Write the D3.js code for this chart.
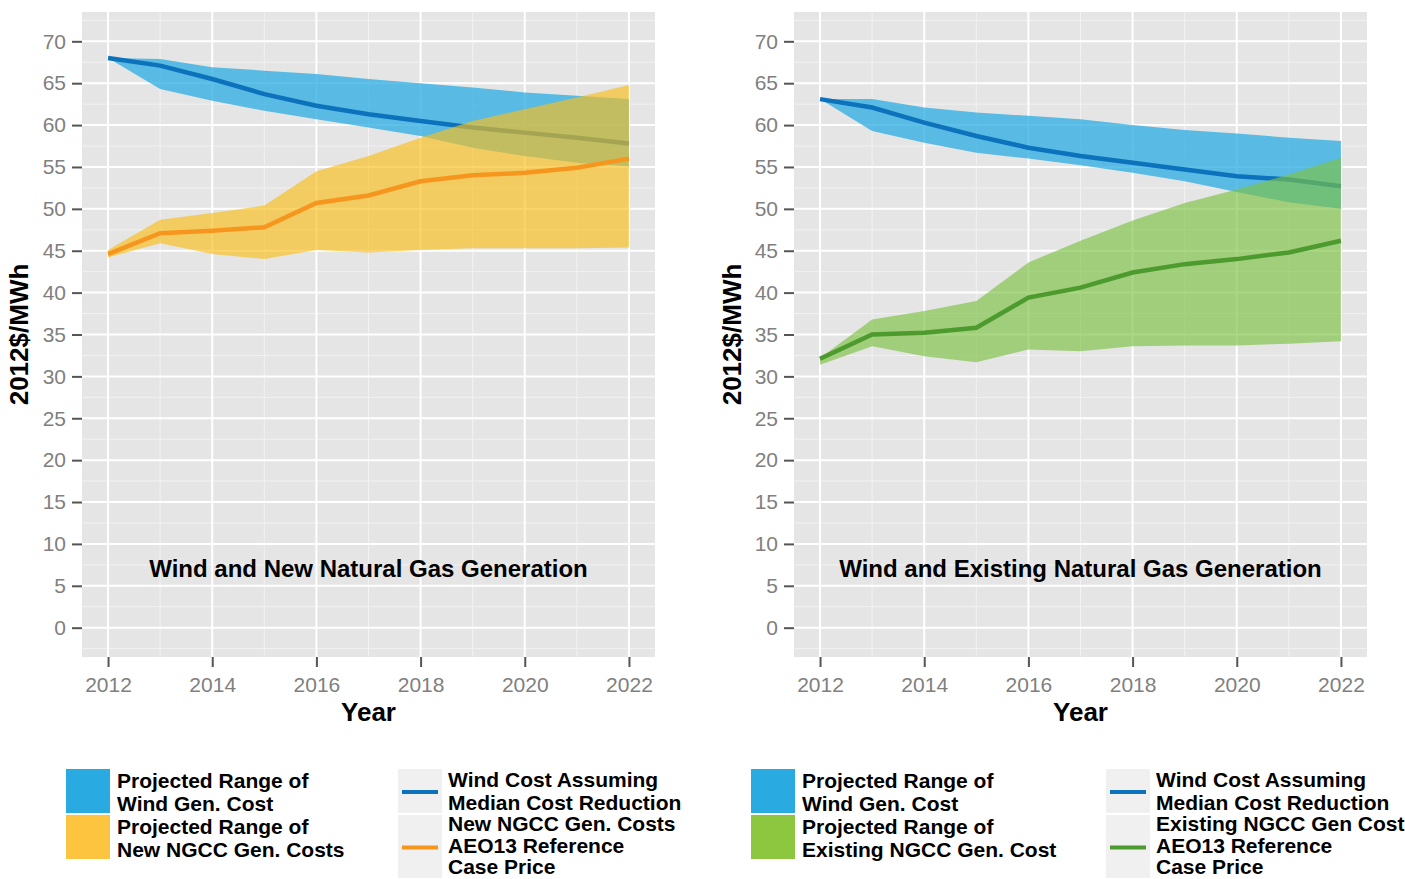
<!DOCTYPE html>
<html>
<head>
<meta charset="utf-8">
<script src="https://cdn.jsdelivr.net/npm/d3@7"></script>
<style>
  html, body { margin: 0; padding: 0; background: #fff; }
  svg { display: block; font-family: "Liberation Sans", Arial, sans-serif; }
</style>
</head>
<body>
<div id="chart"></div>
<script>
const years = [2012, 2013, 2014, 2015, 2016, 2017, 2018, 2019, 2020, 2021, 2022];
const yTicks = [0, 5, 10, 15, 20, 25, 30, 35, 40, 45, 50, 55, 60, 65, 70];
const yMinor = [-2.5, 2.5, 7.5, 12.5, 17.5, 22.5, 27.5, 32.5, 37.5, 42.5, 47.5, 52.5, 57.5, 62.5, 67.5, 72.5];
const xTicks = [2012, 2014, 2016, 2018, 2020, 2022];
const xMinor = [2013, 2015, 2017, 2019, 2021];

// left panel: wind vs new NGCC
const windNewHigh = [68, 67.9, 66.9, 66.5, 66.1, 65.5, 65.0, 64.5, 63.9, 63.5, 63.1];
const windNewMedian = [68, 67.1, 65.5, 63.7, 62.3, 61.3, 60.5, 59.7, 59.1, 58.5, 57.8];
const windNewLow = [68, 64.3, 62.9, 61.7, 60.7, 59.7, 58.7, 57.3, 56.3, 55.5, 55.1];
const ngccNewHigh = [45.1, 48.7, 49.5, 50.4, 54.5, 56.3, 58.5, 60.5, 61.9, 63.3, 64.8];
const ngccNewRef = [44.6, 47.1, 47.4, 47.8, 50.7, 51.6, 53.3, 54.0, 54.3, 54.9, 56.0];
const ngccNewLow = [44.2, 45.9, 44.6, 44.0, 45.1, 44.8, 45.1, 45.3, 45.3, 45.3, 45.4];

// right panel: wind vs existing NGCC
const windExHigh = [63.1, 63.1, 62.1, 61.5, 61.1, 60.7, 60.0, 59.4, 59.0, 58.5, 58.1];
const windExMedian = [63.1, 62.1, 60.3, 58.7, 57.3, 56.3, 55.5, 54.7, 53.9, 53.5, 52.7];
const windExLow = [63.1, 59.3, 57.9, 56.7, 56.0, 55.2, 54.3, 53.3, 52.0, 50.8, 50.0];
const ngccExHigh = [32.2, 36.8, 37.8, 39.0, 43.6, 46.2, 48.6, 50.7, 52.3, 54.1, 56.1];
const ngccExRef = [32.1, 35.0, 35.2, 35.8, 39.4, 40.6, 42.4, 43.4, 44.0, 44.8, 46.2];
const ngccExLow = [31.4, 33.6, 32.4, 31.7, 33.2, 33.0, 33.6, 33.7, 33.7, 33.9, 34.2];

const fillLegendNew = [['Projected Range of', 'Wind Gen. Cost'], ['Projected Range of', 'New NGCC Gen. Costs']];
const lineLegendNew = [['Wind Cost Assuming', 'Median Cost Reduction'], ['New NGCC Gen. Costs', 'AEO13 Reference', 'Case Price']];
const fillLegendEx = [['Projected Range of', 'Wind Gen. Cost'], ['Projected Range of', 'Existing NGCC Gen. Cost']];
const lineLegendEx = [['Wind Cost Assuming', 'Median Cost Reduction'], ['Existing NGCC Gen Cost', 'AEO13 Reference', 'Case Price']];

const WIDTH = 1405;
const HEIGHT = 879;
const PANEL_WIDTH = 573;
const PANEL_TOP = 12;
const PANEL_BOTTOM = 657;
const WIND_FILL = '#29abe2';
const WIND_LINE = '#0b72bb';

const svg = d3.select('#chart')
  .append('svg')
  .attr('width', WIDTH)
  .attr('height', HEIGHT);

drawPanel({
  left: 82,
  yTitleX: 28,
  windHigh: windNewHigh, windMedian: windNewMedian, windLow: windNewLow,
  gasHigh: ngccNewHigh, gasRef: ngccNewRef, gasLow: ngccNewLow,
  gasFill: '#f9bf1a', gasKey: '#fcc43f', gasLine: '#f7961e',
  label: 'Wind and New Natural Gas Generation',
  fillLegend: fillLegendNew, lineLegend: lineLegendNew,
  fillKeyX: 66, lineKeyX: 398,
});

drawPanel({
  left: 794,
  yTitleX: 741,
  windHigh: windExHigh, windMedian: windExMedian, windLow: windExLow,
  gasHigh: ngccExHigh, gasRef: ngccExRef, gasLow: ngccExLow,
  gasFill: '#7cc142', gasKey: '#8dc63f', gasLine: '#4d9a2e',
  label: 'Wind and Existing Natural Gas Generation',
  fillLegend: fillLegendEx, lineLegend: lineLegendEx,
  fillKeyX: 751, lineKeyX: 1106,
});

function drawPanel(cfg) {
  const x = d3.scaleLinear().domain([2011.5, 2022.5]).range([cfg.left, cfg.left + PANEL_WIDTH]);
  const y = d3.scaleLinear().domain([-3.5, 73.5]).range([PANEL_BOTTOM, PANEL_TOP]);
  const g = svg.append('g');

  g.append('rect')
    .attr('x', cfg.left)
    .attr('y', PANEL_TOP)
    .attr('width', PANEL_WIDTH)
    .attr('height', PANEL_BOTTOM - PANEL_TOP)
    .attr('fill', '#e5e5e5');

  // minor grid
  g.selectAll(null).data(yMinor).join('line')
    .attr('x1', cfg.left).attr('x2', cfg.left + PANEL_WIDTH)
    .attr('y1', (d) => y(d)).attr('y2', (d) => y(d))
    .attr('stroke', '#f2f2f2').attr('stroke-width', 1);
  g.selectAll(null).data(xMinor).join('line')
    .attr('x1', (d) => x(d)).attr('x2', (d) => x(d))
    .attr('y1', PANEL_TOP).attr('y2', PANEL_BOTTOM)
    .attr('stroke', '#f2f2f2').attr('stroke-width', 1);

  // major grid
  g.selectAll(null).data(yTicks).join('line')
    .attr('x1', cfg.left).attr('x2', cfg.left + PANEL_WIDTH)
    .attr('y1', (d) => y(d)).attr('y2', (d) => y(d))
    .attr('stroke', '#fff').attr('stroke-width', 2);
  g.selectAll(null).data(xTicks).join('line')
    .attr('x1', (d) => x(d)).attr('x2', (d) => x(d))
    .attr('y1', PANEL_TOP).attr('y2', PANEL_BOTTOM)
    .attr('stroke', '#fff').attr('stroke-width', 2);

  const area = (hi, lo) => d3.area()
    .x((d, i) => x(years[i]))
    .y0((d, i) => y(lo[i]))
    .y1((d, i) => y(hi[i]))(years);
  const line = (vals) => d3.line()
    .x((d, i) => x(years[i]))
    .y((d) => y(d))(vals);

  g.append('path').attr('d', area(cfg.windHigh, cfg.windLow))
    .attr('fill', WIND_FILL).attr('fill-opacity', 0.75);
  g.append('path').attr('d', line(cfg.windMedian))
    .attr('fill', 'none').attr('stroke', WIND_LINE).attr('stroke-width', 4.5);
  g.append('path').attr('d', area(cfg.gasHigh, cfg.gasLow))
    .attr('fill', cfg.gasFill).attr('fill-opacity', 0.65);
  g.append('path').attr('d', line(cfg.gasRef))
    .attr('fill', 'none').attr('stroke', cfg.gasLine).attr('stroke-width', 4.5);

  g.append('text')
    .attr('x', x(2017))
    .attr('y', y(7) + 8)
    .attr('text-anchor', 'middle')
    .attr('font-size', '24px')
    .attr('font-weight', 'bold')
    .attr('fill', '#000')
    .text(cfg.label);

  // axes
  const yAxis = g.append('g')
    .attr('transform', `translate(${cfg.left},0)`)
    .call(d3.axisLeft(y).tickValues(yTicks).tickSize(10).tickPadding(6));
  const xAxis = g.append('g')
    .attr('transform', `translate(0,${PANEL_BOTTOM})`)
    .call(d3.axisBottom(x).tickValues(xTicks).tickFormat(d3.format('d')).tickSize(10).tickPadding(10));
  [yAxis, xAxis].forEach((axis) => {
    axis.select('.domain').remove();
    axis.selectAll('line').attr('stroke', '#555').attr('stroke-width', 2);
    axis.selectAll('text')
      .attr('fill', '#808080')
      .attr('font-size', '21px')
      .attr('font-family', '"Liberation Sans", Arial, sans-serif');
  });

  g.append('text')
    .attr('x', x(2017))
    .attr('y', 721)
    .attr('text-anchor', 'middle')
    .attr('font-size', '26px')
    .attr('font-weight', 'bold')
    .text('Year');

  g.append('text')
    .attr('transform', `translate(${cfg.yTitleX},${(PANEL_TOP + PANEL_BOTTOM) / 2}) rotate(-90)`)
    .attr('text-anchor', 'middle')
    .attr('font-size', '26px')
    .attr('font-weight', 'bold')
    .text('2012$/MWh');

  drawLegends(g, cfg);
}

function drawLegends(g, cfg) {
  const KEY = 44;
  const LINE_H = 22.5;
  const top = 769;

  // fill legend
  const fillColors = [WIND_FILL, cfg.gasKey];
  cfg.fillLegend.forEach((lines, i) => {
    const ky = top + i * (KEY + 2);
    g.append('rect')
      .attr('x', cfg.fillKeyX).attr('y', ky)
      .attr('width', KEY).attr('height', KEY)
      .attr('fill', fillColors[i]);
    lines.forEach((t, j) => {
      g.append('text')
        .attr('x', cfg.fillKeyX + 51)
        .attr('y', ky + 19 + j * LINE_H)
        .attr('font-size', '21px')
        .attr('font-weight', 'bold')
        .text(t);
    });
  });

  // line legend
  const lineColors = [WIND_LINE, cfg.gasLine];
  const keyHeights = [KEY, 63];
  let ky = top;
  cfg.lineLegend.forEach((lines, i) => {
    const kh = keyHeights[i];
    g.append('rect')
      .attr('x', cfg.lineKeyX).attr('y', ky)
      .attr('width', KEY).attr('height', kh)
      .attr('fill', '#f0f0f0');
    g.append('line')
      .attr('x1', cfg.lineKeyX + 4).attr('x2', cfg.lineKeyX + KEY - 4)
      .attr('y1', ky + kh / 2 + 1).attr('y2', ky + kh / 2 + 1)
      .attr('stroke', lineColors[i]).attr('stroke-width', 4);
    const lh = i === 1 ? 21.5 : LINE_H;
    lines.forEach((t, j) => {
      g.append('text')
        .attr('x', cfg.lineKeyX + 50)
        .attr('y', ky + 18 + j * lh - (i === 1 ? 2 : 0))
        .attr('font-size', '21px')
        .attr('font-weight', 'bold')
        .text(t);
    });
    ky += kh + 2;
  });
}
</script>
</body>
</html>
